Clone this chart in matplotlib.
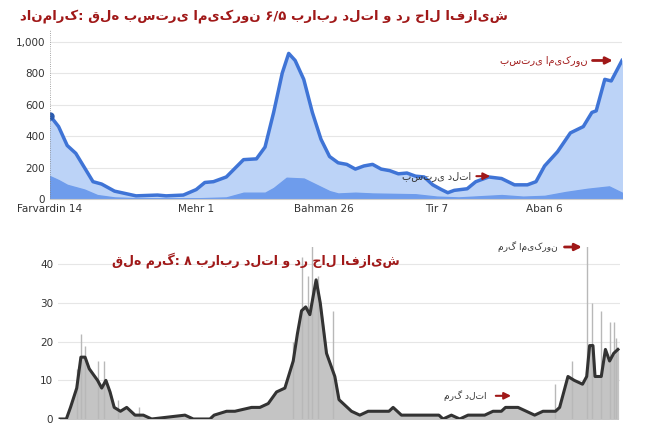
import matplotlib.pyplot as plt

plt.rcParams['font.family'] = ['DejaVu Sans']

# top chart: hospitalised (light) and ICU (dark)
hosp_x = [150, 170, 190, 210, 230, 250, 270, 300, 350, 400, 420, 460, 490, 510, 530, 560, 600, 630, 650, 670,
          690, 705, 720, 740, 760, 780, 800, 820, 840, 860, 880, 900, 920, 940, 960, 980, 1000, 1020, 1040, 1060,
          1075, 1090, 1120, 1140, 1170, 1200, 1230, 1260, 1280, 1300, 1330, 1360, 1390, 1410, 1420, 1440, 1455, 1480]
hosp_y = [530, 460, 340, 290, 200, 110, 95, 50, 20, 25, 20, 25, 60, 105, 110, 140, 250, 255, 330, 550,
          800, 925, 880, 760, 550, 380, 270, 230, 220, 190, 210, 220, 190, 180, 160, 165, 145, 140, 90, 60,
          40, 55, 65, 110, 140, 130, 90, 90, 110, 210, 300, 420, 460, 550, 560, 760, 750, 880]
icu_x = [150, 170, 190, 230, 260, 300, 350, 500, 560, 600, 650, 670, 700, 740, 770, 800, 820, 860, 900, 1000,
         1050, 1100, 1200, 1250, 1300, 1350, 1400, 1450, 1480]
icu_y = [145, 120, 90, 60, 25, 10, 5, 5, 10, 40, 40, 70, 135, 130, 90, 50, 35, 40, 35, 30,
         15, 10, 25, 15, 20, 45, 65, 80, 40]
top_ticks = [150, 490, 787, 1050, 1300]
top_labels = ['Farvardin 14', 'Mehr 1', 'Bahman 26', 'Tir 7', 'Aban 6']

# bottom chart: deaths, 7-day average line and daily spikes
death_x = [140, 155, 165, 180, 190, 200, 210, 230, 240, 250, 260, 270, 285, 300, 320, 340, 360, 440, 460, 500,
           510, 540, 560, 600, 620, 640, 660, 680, 700, 710, 720, 730, 740, 745, 755, 765, 780, 800, 810, 840,
           860, 880, 930, 940, 960, 1050, 1060, 1080, 1100, 1120, 1160, 1180, 1200, 1210, 1240, 1260, 1280, 1300,
           1330, 1340, 1360, 1375, 1395, 1405, 1412, 1420, 1425, 1440, 1450, 1460, 1470, 1480]
death_y = [0, 0, 3, 8, 16, 16, 13, 10, 8, 10, 7, 3, 2, 3, 1, 1, 0, 1, 0, 0,
           1, 2, 2, 3, 3, 4, 7, 8, 15, 22, 28, 29, 27, 30, 36, 30, 17, 11, 5, 2,
           1, 2, 2, 3, 1, 1, 0, 1, 0, 1, 1, 2, 2, 3, 3, 2, 1, 2,
           2, 3, 11, 10, 9, 11, 19, 19, 11, 11, 18, 15, 17, 18]
spike_x = [180, 190, 200, 230, 245, 280, 330, 700, 720, 735, 745, 760, 795, 1330, 1370, 1405, 1418, 1440, 1460, 1470, 1475]
spike_y = [13, 22, 19, 15, 15, 5, 3, 20, 42, 37, 46, 37, 28, 9, 15, 46, 30, 28, 25, 25, 21]

title_col = '#a01818'
fig = plt.figure(figsize=(6.6, 4.28), dpi=100)

ax1 = fig.add_axes([50 / 660, 1 - 199 / 428, 572 / 660, 170 / 428])
ax1.fill_between(hosp_x, hosp_y, color='#bcd3f7')
ax1.fill_between(icu_x, icu_y, color='#6e9cec')
ax1.plot(hosp_x, hosp_y, color='#3f74d6', lw=2.5)
ax1.plot(hosp_x[0], hosp_y[0], 'o', color='#2a5bb0', ms=5)
ax1.axvline(150, color='#888888', lw=0.6, ls=':')
ax1.set_xlim(150, 1480)
ax1.set_ylim(0, 1080)
ax1.set_yticks([0, 200, 400, 600, 800, 1000])
ax1.set_yticklabels(['0', '200', '400', '600', '800', '1,000'])
ax1.set_xticks(top_ticks)
ax1.set_xticklabels(top_labels)
ax1.grid(axis='y', color='#e6e6e6', lw=0.8)
ax1.set_axisbelow(True)
for s in ['top', 'right', 'left']:
    ax1.spines[s].set_visible(False)
ax1.spines['bottom'].set_color('#cccccc')
ax1.tick_params(labelsize=7.5, length=0, colors='#333333')
ax1.annotate('', xy=(1465, 880), xytext=(1405, 880), arrowprops=dict(arrowstyle='-|>', color=title_col, lw=2))
ax1.text(1400, 880, 'بستری امیکرون', ha='right', va='center', fontsize=7, color=title_col)
ax1.annotate('', xy=(1180, 145), xytext=(1135, 145), arrowprops=dict(arrowstyle='-|>', color=title_col, lw=1.5))
ax1.text(1130, 145, 'بستری دلتا', ha='right', va='center', fontsize=7, color='#333333')
fig.text(0.40, 0.962, 'دانمارک: قله بستری امیکرون ۶/۵ برابر دلتا و در حال افزایش', ha='center', va='center',
         fontsize=9.5, fontweight='bold', color=title_col)

ax2 = fig.add_axes([58 / 660, 1 - 419 / 428, 562 / 660, 172 / 428])
ax2.fill_between(death_x, death_y, color='#c4c4c4')
ax2.vlines(spike_x, 0, spike_y, color='#b8b8b8', lw=1)
ax2.plot(death_x, death_y, color='#333333', lw=2.2)
ax2.set_xlim(135, 1485)
ax2.set_ylim(0, 44.5)
ax2.set_yticks([0, 10, 20, 30, 40])
ax2.set_xticks([])
ax2.grid(axis='y', color='#e6e6e6', lw=0.8)
ax2.set_axisbelow(True)
for s in ['top', 'right', 'left', 'bottom']:
    ax2.spines[s].set_visible(False)
ax2.tick_params(labelsize=7.5, length=0, colors='#333333')
ax2.annotate('', xy=(1400, 44.5), xytext=(1345, 44.5), arrowprops=dict(arrowstyle='-|>', color=title_col, lw=2),
             annotation_clip=False)
ax2.text(1335, 44.5, 'مرگ امیکرون', ha='right', va='center', fontsize=6.5, color='#333333')
ax2.annotate('', xy=(1230, 6), xytext=(1180, 6), arrowprops=dict(arrowstyle='-|>', color=title_col, lw=1.5))
ax2.text(1165, 6, 'مرگ دلتا', ha='right', va='center', fontsize=6.5, color='#333333')
ax2.text(610, 41, 'قله مرگ: ۸ برابر دلتا و در حال افزایش', ha='center', va='center',
         fontsize=9, fontweight='bold', color=title_col)

fig.savefig('out.png', dpi=100)
